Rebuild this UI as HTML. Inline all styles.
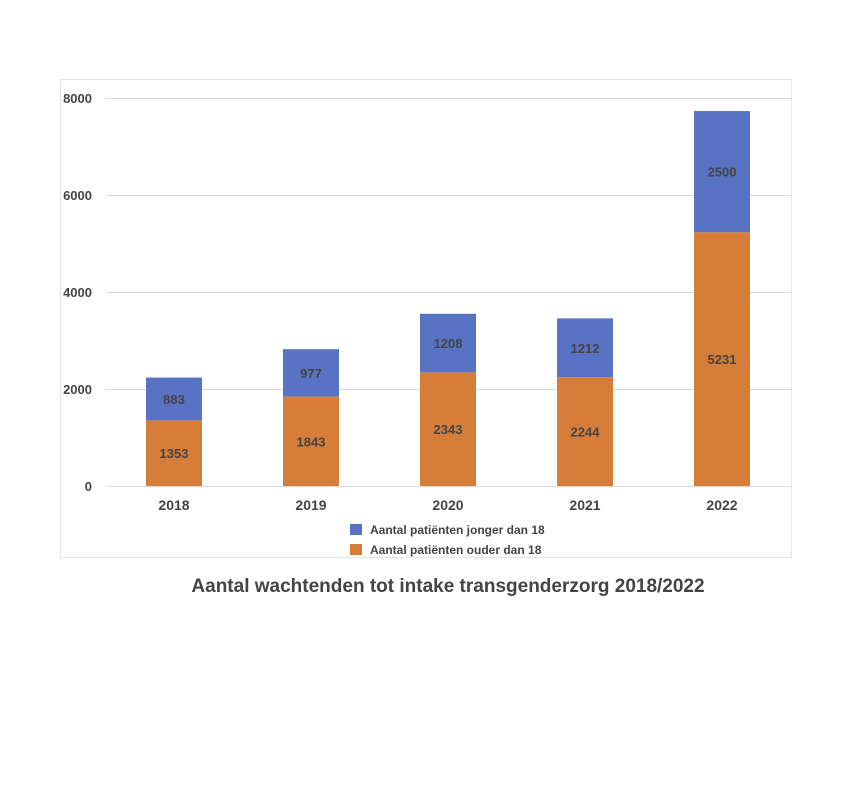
<!DOCTYPE html>
<html><head><meta charset="utf-8"><style>
body{margin:0;background:#fff;width:864px;height:792px;overflow:hidden}
svg text{font-family:"Liberation Sans",sans-serif;font-weight:bold;fill:#444}
</style></head><body>
<svg id="chart" width="864" height="792">
<rect x="60.5" y="79.5" width="731" height="478" fill="none" stroke="#e4e4e4"/>
<g id="grid"></g><g id="bars"></g><g id="labels"></g>
<g>
<rect x="350" y="524" width="12" height="11" fill="#5872c4"/>
<text x="370" y="534" font-size="12">Aantal patiënten jonger dan 18</text>
<rect x="350" y="544" width="12" height="11" fill="#d67d3a"/>
<text x="370" y="554" font-size="12">Aantal patiënten ouder dan 18</text>
</g>
<text x="448" y="592" font-size="19" text-anchor="middle" fill="#555">Aantal wachtenden tot intake transgenderzorg 2018/2022</text>
</svg>
<script>
const categories=["2018","2019","2020","2021","2022"];
const older=[1353,1843,2343,2244,5231];
const younger=[883,977,1208,1212,2500];
const yTicks=[0,2000,4000,6000,8000];
const NS="http://www.w3.org/2000/svg";
const y=v=>486-v*(388/8000);
const x=i=>174+i*137;
function mk(tag,attrs,parent,txt){const e=document.createElementNS(NS,tag);for(const k in attrs)e.setAttribute(k,attrs[k]);if(txt!==undefined)e.textContent=txt;parent.appendChild(e);return e;}
const grid=document.getElementById('grid'),bars=document.getElementById('bars'),labels=document.getElementById('labels');
yTicks.forEach(t=>{
 const l=mk('line',{x1:106,x2:791,y1:y(t)+0.5,y2:y(t)+0.5,stroke:'#d9d9d9'},grid);
 
 
 const tx=mk('text',{x:92,y:y(t)+5,'font-size':13,'text-anchor':'end'},grid,String(t));
 
 
});
categories.forEach((c,i)=>{
 const w=56,x0=x(i)-w/2;
 const b1=mk('rect',{x:x0,y:y(older[i]),width:w,height:y(0)-y(older[i]),fill:'#d67d3a'},bars);
 
 
 const top=older[i]+younger[i];
 const b2=mk('rect',{x:x0,y:y(top),width:w,height:y(older[i])-y(top),fill:'#5872c4'},bars);
 
 
 const l1=mk('text',{x:x(i),y:(y(0)+y(older[i]))/2+5,'font-size':13,'text-anchor':'middle'},labels,String(older[i]));
 
 
 const l2=mk('text',{x:x(i),y:(y(older[i])+y(top))/2+5,'font-size':13,'text-anchor':'middle'},labels,String(younger[i]));
 
 
 const cx=mk('text',{x:x(i),y:510,'font-size':14,'text-anchor':'middle'},labels,c);
 
 
});
</script>
</body></html>
